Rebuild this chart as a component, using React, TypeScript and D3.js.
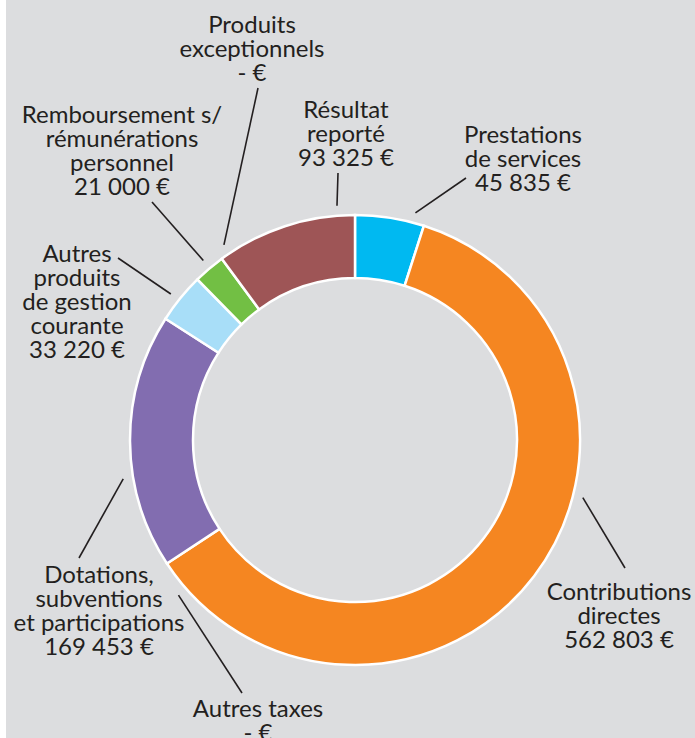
import * as d3 from "d3";

const categories = [
  "Prestations de services",
  "Contributions directes",
  "Autres taxes",
  "Dotations, subventions et participations",
  "Autres produits de gestion courante",
  "Remboursement s/ rémunérations personnel",
  "Produits exceptionnels",
  "Résultat reporté",
];
const values = [45835, 562803, 0, 169453, 33220, 21000, 0, 93325];
const valueLabels = [
  "45 835 €",
  "562 803 €",
  "- €",
  "169 453 €",
  "33 220 €",
  "21 000 €",
  "- €",
  "93 325 €",
];
// label text lines (without the value)
const labelLines = [
  ["Prestations", "de services"],
  ["Contributions", "directes"],
  ["Autres taxes"],
  ["Dotations,", "subventions", "et participations"],
  ["Autres", "produits", "de gestion", "courante"],
  ["Remboursement s/", "rémunérations", "personnel"],
  ["Produits", "exceptionnels"],
  ["Résultat", "reporté"],
];
const colors = ["#00b9f1", "#f58621", "#999999", "#826db0", "#a8def8", "#72bf44", "#999999", "#9e5556"];

// label placement: text center x, first baseline y, leader start angle (deg), leader end
const labelLayout = [
  { x: 523, y: 143, a: 14.9, ex: 466, ey: 178 },
  { x: 619, y: 600, a: 104.2, ex: 625, ey: 568 },
  { x: 258, y: 717, a: 228.7, ex: 242, ey: 693 },
  { x: 99, y: 583, a: 260.5, ex: 79, ey: 558 },
  { x: 77, y: 262, a: 308.4, ex: 118, ey: 258 },
  { x: 122, y: 123, a: 319.8, ex: 152, ey: 202 },
  { x: 252, y: 33, a: 326.1, ex: 258, ey: 88 },
  { x: 346, y: 118, a: 355.6, ex: 338, ey: 173 },
];

const width = 695;
const height = 738;
const cx = 355;
const cy = 440;
const outerR = 225;
const innerR = 162;
const lineH = 24;

const DonutChart = () => {
  const pie = d3
    .pie<number>()
    .sort(null)
    .value((d) => d);
  const arcs = pie(values);
  const arcGen = d3.arc<d3.PieArcDatum<number>>().innerRadius(innerR).outerRadius(outerR);

  return (
    <svg
      width={width}
      height={height}
      style={{ position: "absolute", left: 0, top: 0 }}
      fontFamily="Lato, sans-serif"
      fontSize={24}
    >
      <rect x={0} y={0} width={width} height={height} fill="#ffffff" />
      <rect x={6} y={0} width={width - 6} height={height} fill="#dcdddf" />
      <g transform={`translate(${cx}, ${cy})`}>
        {arcs.map((a, i) =>
          a.value > 0 ? (
            <path key={i} d={arcGen(a) || ""} fill={colors[i]} stroke="#ffffff" strokeWidth={2.5} />
          ) : null
        )}
      </g>
      {labelLayout.map((l, i) => {
        const rad = (l.a * Math.PI) / 180;
        const r0 = outerR + 10;
        const sx = cx + r0 * Math.sin(rad);
        const sy = cy - r0 * Math.cos(rad);
        const lines = [...labelLines[i], valueLabels[i]];
        return (
          <g key={i}>
            <line x1={sx} y1={sy} x2={l.ex} y2={l.ey} stroke="#231f20" strokeWidth={1.6} />
            <text textAnchor="middle" fill="#231f20">
              {lines.map((t, j) => (
                <tspan key={j} x={l.x} y={l.y + j * lineH}>
                  {t}
                </tspan>
              ))}
            </text>
          </g>
        );
      })}
    </svg>
  );
};

const App = () => {
  return (
    <div>
      <DonutChart />
    </div>
  );
};

export default App;
